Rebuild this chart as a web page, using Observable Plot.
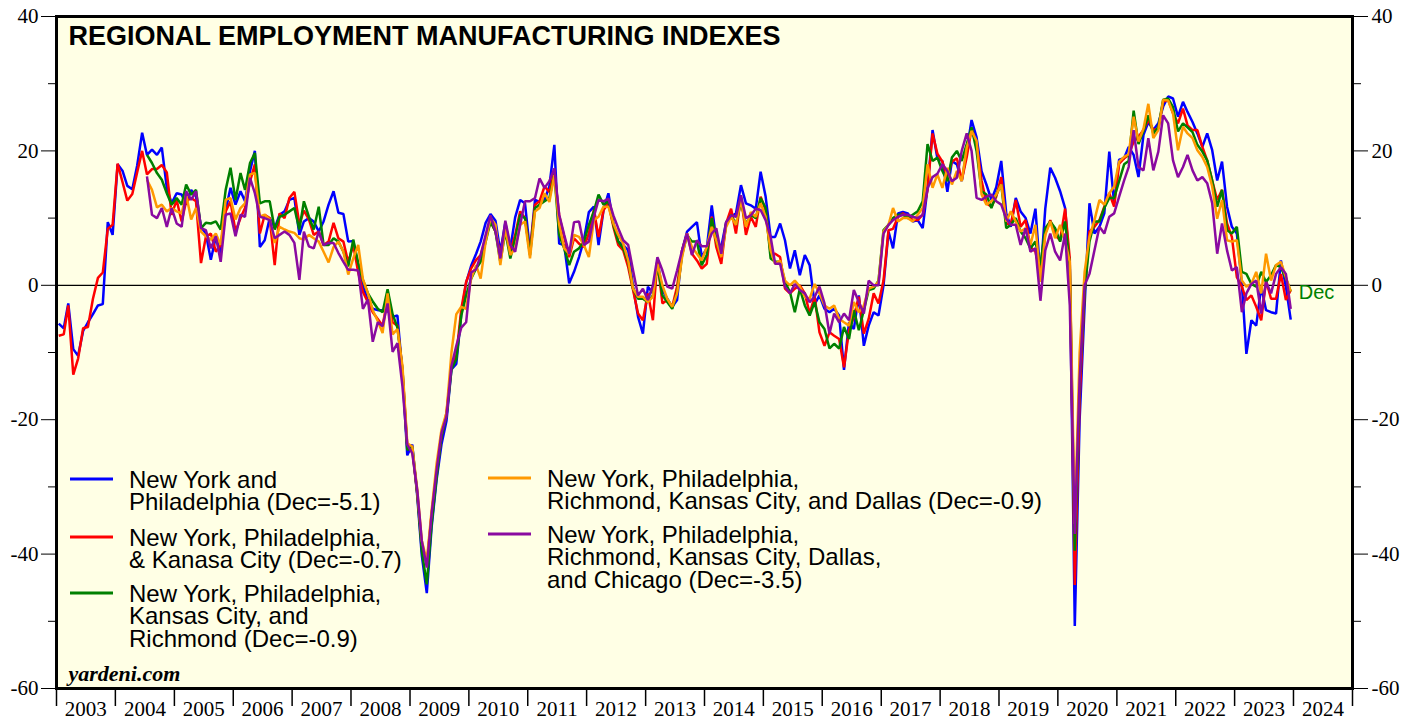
<!DOCTYPE html>
<html>
<head>
<meta charset="utf-8">
<script src="https://cdn.jsdelivr.net/npm/d3@7"></script>
<script src="https://cdn.jsdelivr.net/npm/@observablehq/plot@0.6"></script>
<style>
  html, body { margin: 0; padding: 0; background: #ffffff; }
  #chart svg { display: block; }
</style>
</head>
<body>
<div id="chart"></div>
<script>
// ---- Data (monthly) ----
// Blue & red series start Jan 2003; the other three start Jul 2004.
const startFull = [2003, 0];
const startShort = [2004, 6];

const nyPhilly = [
  -5.7, -6.4, -2.7, -9.5, -10.5, -6.8, -5.5, -4.3, -3.0, -2.8, 9.4, 7.5,
  18.0, 17.0, 14.8, 14.3, 17.8, 22.7, 19.4, 20.2, 19.4, 20.5, 14.5, 12.2,
  13.7, 13.5, 12.0, 14.2, 13.2, 8.7, 7.7, 3.8, 7.2, 4.8, 11.2, 14.5,
  12.0, 14.0, 12.5, 17.0, 20.0, 5.7, 6.7, 10.0, 8.5, 10.5, 11.0, 12.7,
  13.0, 7.5, 9.5, 10.0, 9.5, 8.0, 9.5, 12.0, 14.0, 10.8, 10.6, 6.5,
  6.6, 2.7, -0.2, -2.2, -3.5, -3.7, -3.7, -3.8, -4.7, -4.5, -13.0, -25.3,
  -23.7, -31.4, -40.2, -45.8, -36.0, -28.9, -23.7, -20.2, -12.5, -11.7, -4.3, 0.4,
  2.9, 4.7, 6.5, 9.3, 10.6, 9.6, 5.0, 9.3, 5.5, 10.1, 12.7, 12.2,
  5.0, 12.7, 12.4, 12.7, 14.7, 20.9, 6.2, 6.0, 0.3, 2.0, 4.2, 6.7,
  10.9, 11.7, 6.0, 11.2, 13.7, 9.2, 6.5, 6.0, 5.2, -0.2, -4.7, -7.2,
  -0.2, -1.2, 3.7, -0.7, -2.0, -3.2, -2.2, 5.2, 8.0, 8.7, 9.4, 4.2,
  5.5, 11.9, 6.7, 5.7, 9.4, 10.2, 10.7, 14.9, 12.2, 11.9, 11.4, 16.9,
  13.2, 7.2, 7.2, 9.2, 6.7, 2.5, 5.2, 1.5, 4.5, 3.0, -2.8, -1.5,
  -3.5, -4.0, -3.5, -4.5, -12.6, -5.5, -6.5, -1.5, -9.0, -6.0, -4.0, -4.5,
  0.0, 8.0, 5.5, 10.7, 10.9, 10.7, 9.5, 9.7, 8.5, 14.5, 23.1, 18.9,
  18.5, 13.9, 18.5, 18.0, 15.5, 20.0, 24.6, 22.0, 17.0, 15.0, 12.7, 14.6,
  18.5, 10.7, 8.7, 13.0, 11.0, 10.0, 7.7, 11.4, 1.2, 11.4, 17.5, 16.0,
  14.0, 11.5, 2.5, -50.7, -20.0, -3.0, 12.2, 7.7, 8.7, 10.7, 19.9, 12.2,
  18.7, 18.9, 20.6, 19.4, 16.1, 22.4, 24.3, 23.1, 24.1, 26.6, 28.1, 27.8,
  25.1, 27.3, 25.8, 24.3, 22.6, 20.6, 22.6, 20.1, 15.6, 18.4, 11.7, 8.7,
  7.7, 0.2, -10.2, -5.2, -6.0, -0.2, -3.7, -4.0, -4.2, 3.7, -0.2, -5.1
];

const nyPhillyKc = [
  -7.5, -7.3, -3.0, -13.3, -10.9, -6.4, -6.2, -2.0, 1.1, 1.9, 8.4, 9.0,
  18.1, 15.3, 12.6, 13.6, 16.8, 20.0, 16.5, 17.3, 17.3, 17.9, 16.8, 10.5,
  12.7, 9.5, 12.5, 13.0, 12.5, 3.3, 7.2, 7.7, 5.0, 6.0, 11.0, 12.5,
  8.0, 10.0, 11.5, 15.5, 18.0, 7.7, 10.5, 10.0, 3.0, 10.7, 10.0, 13.0,
  13.9, 9.1, 11.1, 9.8, 7.5, 8.0, 6.0, 6.5, 9.3, 7.0, 6.5, 3.4,
  6.0, 1.9, -1.0, -2.5, -4.0, -5.0, -6.0, -2.0, -5.5, -6.0, -12.5, -24.0,
  -24.5, -31.0, -38.5, -41.5, -34.0, -28.0, -22.5, -19.0, -12.0, -10.5, -3.5, 0.5,
  2.5, 3.8, 4.5, 7.0, 9.5, 8.0, 4.5, 8.5, 5.0, 7.5, 11.0, 10.0,
  5.0, 12.0, 12.5, 14.7, 13.9, 16.9, 10.4, 7.2, 4.2, 7.0, 6.2, 5.7,
  7.7, 11.2, 7.2, 11.2, 12.2, 8.7, 6.0, 5.2, 2.7, -0.7, -4.2, -5.2,
  -1.2, -5.2, 3.7, -2.7, -2.2, -3.2, -0.2, 5.2, 7.7, 4.7, 3.7, 2.5,
  3.2, 10.2, 5.7, 3.2, 9.2, 11.4, 7.7, 13.2, 7.5, 10.2, 8.7, 13.2,
  11.2, 4.7, 4.7, 4.2, -0.5, -1.2, -0.5, 0.0, -1.2, -4.2, -1.7, -7.0,
  -9.0, -7.0, -7.5, -8.0, -12.2, -6.7, -4.7, -1.7, -7.2, -5.0, -1.2, -2.7,
  0.7, 8.2, 8.4, 10.2, 10.7, 10.2, 9.7, 9.7, 10.5, 14.2, 22.6, 19.6,
  18.4, 16.1, 18.4, 18.9, 15.6, 19.1, 23.3, 21.0, 15.6, 12.2, 11.7, 13.2,
  16.1, 9.2, 9.0, 12.7, 8.7, 9.7, 5.7, 5.0, 1.7, 7.7, 9.7, 7.5,
  6.7, 11.4, 4.0, -44.6, -17.0, -1.0, 8.0, 8.7, 9.7, 11.7, 13.7, 11.7,
  18.1, 18.9, 19.4, 21.4, 22.1, 23.1, 24.6, 23.1, 23.3, 27.3, 27.6, 25.6,
  24.1, 26.3, 23.8, 23.1, 23.1, 20.6, 18.6, 15.6, 12.7, 14.2, 9.2, 7.2,
  1.2, -0.2, -2.2, -1.5, -3.2, -5.2, 0.7, -2.0, -2.0, 1.7, -2.2, -0.7
];

const nyPhillyKcRich = [
  19.4, 18.2, 16.7, 15.7, 13.7, 12.0,
  13.0, 12.0, 15.0, 13.5, 14.2, 8.5, 9.3, 9.2, 9.5, 8.3, 14.2, 17.5,
  12.7, 16.7, 14.2, 18.2, 19.7, 12.2, 12.5, 12.5, 8.3, 10.2, 10.5, 11.0,
  11.5, 8.3, 12.5, 10.2, 8.3, 11.7, 6.0, 6.0, 7.0, 6.5, 5.0, 2.8,
  6.8, 3.3, 0.8, -1.2, -2.4, -3.5, -4.0, -0.6, -4.3, -6.3, -12.5, -24.5,
  -24.0, -31.0, -39.5, -44.5, -35.5, -28.5, -22.5, -19.5, -12.5, -11.0, -4.5, -1.5,
  1.0, 2.5, 3.5, 6.5, 9.5, 8.0, 3.5, 8.0, 4.0, 7.0, 10.5, 10.0,
  4.5, 11.5, 12.0, 12.5, 13.0, 16.5, 7.5, 5.5, 3.0, 5.0, 5.5, 6.5,
  9.0, 11.0, 13.5, 12.0, 12.5, 9.0, 6.5, 5.5, 3.5, -0.5, -2.0, -2.0,
  -2.5, -1.5, 3.0, -1.5, -2.5, -3.5, -1.0, 4.5, 7.5, 6.5, 6.5, 3.0,
  4.5, 10.0, 6.5, 4.5, 9.0, 10.5, 9.0, 12.5, 9.0, 10.5, 10.0, 13.0,
  11.5, 4.0, 3.5, 3.5, 0.5, -1.0, -4.0, -0.5, -3.0, -4.5, -2.5, -5.5,
  -6.5, -9.4, -8.7, -9.4, -6.2, -8.0, -3.7, -6.7, -3.7, -0.7, -0.5, 0.7,
  8.2, 9.0, 10.0, 10.5, 10.5, 10.0, 10.5, 11.0, 12.5, 21.0, 18.5, 19.0,
  17.0, 15.5, 19.0, 20.0, 18.5, 21.0, 23.5, 20.0, 14.0, 13.5, 11.5, 13.5,
  15.0, 8.5, 9.0, 10.0, 8.0, 7.0, 5.5, 6.5, 3.0, 8.5, 9.5, 8.5,
  6.5, 9.5, 3.0, -39.5, -14.0, -1.0, 6.5, 9.5, 9.5, 11.5, 13.0, 13.0,
  15.5, 18.0, 18.5, 26.0, 21.0, 23.0, 25.3, 22.6, 23.5, 27.6, 27.8, 26.5,
  22.9, 24.1, 23.5, 22.8, 20.9, 19.9, 18.6, 15.6, 11.7, 14.2, 8.2, 7.7,
  8.7, 2.0, 1.7, 0.2, -0.2, 2.0, 0.5, 1.5, 3.0, 2.7, 1.0, -0.9
];

const nyPhillyRichKcDal = [
  15.7, 14.2, 11.6, 12.0, 11.0, 11.5,
  11.0, 10.7, 13.5, 9.8, 11.5, 8.0, 7.3, 6.8, 7.7, 6.0, 12.7, 13.0,
  9.8, 11.5, 12.2, 16.5, 16.7, 10.2, 10.5, 9.8, 6.3, 8.7, 8.3, 8.0,
  7.8, 7.0, 6.8, 7.5, 7.0, 6.5, 5.0, 3.4, 5.7, 6.5, 5.0, 1.6,
  4.0, 6.0, 0.9, -1.2, -3.7, -5.3, -7.1, -1.2, -7.3, -6.5, -12.0, -23.5,
  -24.0, -30.5, -38.0, -41.0, -33.5, -26.5, -21.5, -19.0, -10.0, -4.3, -3.2, -3.5,
  1.0, 3.0, 1.0, 6.5, 10.0, 9.0, 3.0, 8.5, 4.5, 5.5, 9.0, 9.5,
  4.0, 11.0, 11.5, 13.7, 12.4, 16.4, 9.0, 5.5, 4.7, 7.5, 7.2, 6.0,
  4.2, 9.7, 10.2, 11.7, 11.7, 9.2, 7.5, 6.2, 3.7, -0.5, -1.7, -1.7,
  -2.5, -1.7, 3.2, 0.0, -2.0, -3.2, -1.2, 4.2, 7.7, 5.7, 4.7, 3.7,
  5.7, 8.7, 6.7, 4.2, 8.7, 10.2, 9.0, 12.7, 8.7, 10.9, 10.2, 12.2,
  10.2, 5.2, 3.2, 3.7, 0.7, 0.0, 0.7, -0.2, -1.7, -2.0, 0.2, -1.2,
  -3.0, -3.5, -3.0, -5.0, -5.5, -6.0, -2.5, -4.0, -3.0, -0.5, -0.2, 0.5,
  8.0, 9.0, 11.5, 9.5, 10.0, 10.0, 9.5, 10.5, 11.5, 18.0, 14.5, 16.5,
  14.5, 17.5, 15.0, 17.0, 15.5, 20.5, 23.0, 21.5, 13.5, 12.0, 12.5, 13.5,
  15.0, 9.5, 11.0, 9.5, 8.0, 8.5, 6.0, 9.0, 0.5, 7.5, 9.5, 7.0,
  9.0, 6.5, 3.5, -35.5, -10.0, 2.0, 7.2, 9.7, 12.7, 12.0, 13.7, 14.7,
  18.4, 19.1, 19.5, 25.1, 21.4, 23.3, 27.0, 21.9, 23.1, 27.6, 27.5, 25.6,
  20.1, 23.6, 22.6, 21.9, 20.1, 19.1, 17.6, 14.7, 9.9, 12.7, 6.7, 6.5,
  6.7, 0.7, -0.2, 0.2, 2.0, -1.2, 4.7, 0.7, 3.0, 3.5, 1.2, -0.9
];

const nyPhillyRichKcDalChi = [
  16.2, 10.5, 10.0, 11.5, 8.7, 11.5,
  9.2, 8.7, 14.0, 12.7, 14.0, 8.5, 8.2, 5.5, 7.3, 3.5, 10.5, 10.7,
  7.3, 10.5, 10.2, 16.0, 13.7, 10.2, 10.0, 9.7, 7.0, 7.5, 8.0, 7.5,
  6.3, 0.8, 8.0, 5.8, 5.5, 8.0, 6.0, 6.3, 6.3, 4.8, 3.5, 2.3,
  2.3, 2.2, -3.5, -2.1, -8.4, -5.5, -6.1, -2.7, -9.9, -8.6, -15.0, -23.7,
  -25.0, -30.5, -38.0, -42.0, -34.0, -27.5, -22.0, -19.5, -12.0, -9.0, -6.3, -5.5,
  1.9, 2.4, 4.5, 7.5, 10.4, 8.0, 4.0, 9.6, 6.0, 5.0, 9.0, 12.5,
  12.5, 13.0, 15.9, 14.5, 15.5, 17.4, 10.5, 7.5, 4.7, 9.4, 9.5, 6.0,
  6.5, 10.2, 12.7, 12.5, 12.9, 10.4, 8.5, 6.7, 6.0, 2.2, -1.5, -0.5,
  -2.2, 0.0, 4.2, 2.2, -0.2, -0.5, 2.2, 5.2, 7.7, 4.5, 6.7, 5.8,
  5.8, 7.7, 8.5, 4.7, 9.4, 10.4, 10.2, 13.4, 10.0, 10.4, 11.4, 11.2,
  9.7, 7.2, 3.2, 3.2, -0.2, -1.2, 0.2, -0.7, -1.2, -2.5, -1.7, -0.2,
  -2.7, -7.2, -4.2, -5.5, -4.2, -5.2, -0.7, -2.5, -4.2, 0.7, 0.0, 0.0,
  7.7, 9.0, 9.7, 10.2, 10.5, 10.5, 10.2, 10.0, 10.5, 14.4, 16.1, 16.6,
  18.0, 17.0, 15.5, 16.0, 20.0, 22.6, 20.0, 13.0, 12.7, 13.2, 13.5, 12.5,
  12.0, 9.9, 9.0, 9.0, 6.0, 8.5, 5.0, 5.5, -2.3, 5.2, 7.7, 5.0,
  3.7, 7.7, -3.0, -37.0, -14.0, 0.0, 1.7, 5.2, 8.7, 7.7, 10.2, 10.7,
  13.2, 15.6, 17.6, 23.1, 17.6, 17.1, 21.9, 17.1, 19.9, 25.3, 24.1, 18.6,
  16.1, 17.6, 19.4, 17.1, 15.6, 16.1, 15.2, 12.2, 4.7, 9.2, 5.2, 2.2,
  2.7, -4.0, -1.2, 0.2, 0.7, -4.2, 0.5, -1.2, 1.7, 2.7, 1.7, -3.5
];

const seriesColors = ["#0000ff", "#ff0000", "#008000", "#ff9900", "#8a0aa0"];
const legendLabels = [
  ["New York and", "Philadelphia (Dec=-5.1)"],
  ["New York, Philadelphia,", "& Kanasa City (Dec=-0.7)"],
  ["New York, Philadelphia,", "Kansas City, and", "Richmond (Dec=-0.9)"],
  ["New York, Philadelphia,", "Richmond, Kansas City, and Dallas (Dec=-0.9)"],
  ["New York, Philadelphia,", "Richmond, Kansas City, Dallas,", "and Chicago (Dec=-3.5)"]
];
const yMajorTicks = [-60, -40, -20, 0, 20, 40];
const yMinorTicks = [-50, -30, -10, 10, 30];
const yearFirst = 2003, yearLast = 2024;
const titleText = "REGIONAL EMPLOYMENT MANUFACTURING INDEXES";
const sourceText = "yardeni.com";
const endLabel = "Dec";

// ---- Build tables ----
function monthly(values, start) {
  return values.map((v, i) => ({date: new Date(Date.UTC(start[0], start[1] + i, 15)), value: v}));
}
const series = [
  monthly(nyPhilly, startFull),
  monthly(nyPhillyKc, startFull),
  monthly(nyPhillyKcRich, startShort),
  monthly(nyPhillyRichKcDal, startShort),
  monthly(nyPhillyRichKcDalChi, startShort)
];
const yearStarts = d3.range(yearFirst, yearLast + 2).map(y => new Date(Date.UTC(y, 0, 1)));
const yearMids = d3.range(yearFirst, yearLast + 1).map(y => new Date(Date.UTC(y, 6, 2)));
const greenLast = series[2][series[2].length - 1];

const serif = "'Liberation Serif', 'Times New Roman', serif";
const sans = "'Liberation Sans', Arial, sans-serif";

const plot = Plot.plot({
  width: 1419,
  height: 719,
  marginLeft: 56,
  marginRight: 67,
  marginTop: 16,
  marginBottom: 31,
  x: {type: "utc", domain: [yearStarts[0], yearStarts[yearStarts.length - 1]]},
  y: {domain: [-60, 40]},
  style: {background: "white", fontFamily: serif, fontSize: "21px", color: "black", overflow: "visible"},
  marks: [
    Plot.frame({fill: "#ffffe5"}),
    Plot.ruleY([0], {stroke: "black", strokeWidth: 1.3}),
    ...series.map((data, i) => Plot.line(data, {
      x: "date", y: "value", stroke: seriesColors[i], strokeWidth: 2.5,
      strokeLinejoin: "miter", strokeLinecap: "butt"
    })),
    Plot.text([greenLast], {x: "date", y: "value", text: () => endLabel, dx: 8, dy: 1,
      textAnchor: "start", fill: "#008000", fontFamily: sans, fontSize: 20}),
    Plot.frame({stroke: "black", strokeWidth: 3}),
    Plot.axisY({anchor: "left", ticks: yMajorTicks, tickSize: 15, tickPadding: 3,
      tickFormat: d => String(d), label: null, fontSize: 21, fontFamily: serif}),
    Plot.axisY({anchor: "left", ticks: yMinorTicks, tickSize: 8, tickFormat: () => "", label: null}),
    Plot.axisY({anchor: "right", ticks: yMajorTicks, tickSize: 15, tickPadding: 4,
      tickFormat: d => String(d), label: null, fontSize: 21, fontFamily: serif}),
    Plot.axisY({anchor: "right", ticks: yMinorTicks, tickSize: 8, tickFormat: () => "", label: null}),
    Plot.axisX({anchor: "bottom", ticks: yearStarts, tickSize: 18, tickFormat: () => "", label: null, strokeWidth: 1.5}),
    Plot.axisX({anchor: "bottom", ticks: yearMids, tickSize: 0, tickPadding: 13,
      tickFormat: d => String(d.getUTCFullYear()), label: null, fontSize: 21, fontFamily: serif}),
    Plot.text([titleText], {frameAnchor: "top-left", dx: 12, dy: 9, text: d => d,
      textAnchor: "start", lineAnchor: "top", fontFamily: sans, fontWeight: "bold", fontSize: 27}),
    Plot.text([sourceText], {frameAnchor: "bottom-left", dx: 12, dy: -8, text: d => d,
      textAnchor: "start", lineAnchor: "bottom", fontFamily: serif, fontWeight: "bold",
      fontStyle: "italic", fontSize: 22})
  ]
});

// ---- Legend (inside the plot area) ----
const svg = d3.select(plot);
const legendPos = [
  {x: 70, y: 479}, {x: 70, y: 537}, {x: 70, y: 593},
  {x: 488, y: 478}, {x: 488, y: 534}
];
const lg = svg.append("g")
  .attr("font-family", sans).attr("font-size", 24).attr("fill", "black")
  .attr("text-anchor", "start");
legendPos.forEach((p, i) => {
  lg.append("line").attr("x1", p.x).attr("x2", p.x + 43).attr("y1", p.y).attr("y2", p.y)
    .attr("stroke", seriesColors[i]).attr("stroke-width", 3);
  legendLabels[i].forEach((t, j) => {
    lg.append("text").attr("x", p.x + 59).attr("y", p.y + j * 22.7)
      .attr("dy", "0.36em").attr("text-anchor", "start").text(t);
  });
});

document.getElementById("chart").appendChild(plot);
</script>
</body>
</html>
